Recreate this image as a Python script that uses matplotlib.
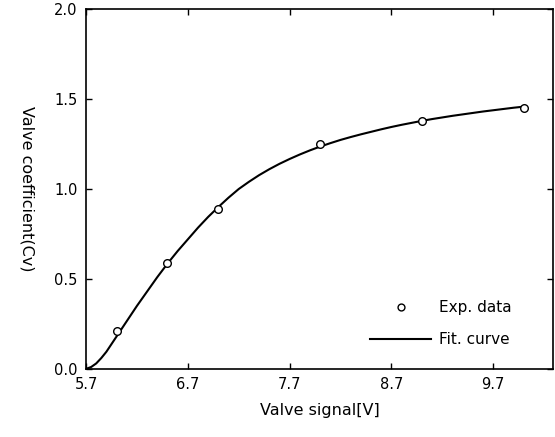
import matplotlib
matplotlib.use("Agg")
import matplotlib.pyplot as plt

plt.rcParams['font.family'] = ['DejaVu Sans']

exp_x = [6.0, 6.5, 7.0, 8.0, 9.0, 10.0]
exp_y = [0.21, 0.59, 0.89, 1.25, 1.38, 1.45]

fit_x = [5.7, 5.75, 5.8, 5.85, 5.9, 6.0, 6.1, 6.2, 6.3, 6.4, 6.5, 6.6, 6.7, 6.8, 6.9,
         7.0, 7.1, 7.2, 7.3, 7.4, 7.5, 7.6, 7.7, 7.8, 7.9, 8.0, 8.1, 8.2, 8.3, 8.4,
         8.5, 8.6, 8.7, 8.8, 8.9, 9.0, 9.1, 9.2, 9.3, 9.4, 9.5, 9.6, 9.7, 9.8, 9.9, 10.0]
fit_y = [0.0, 0.01, 0.03, 0.06, 0.095, 0.18, 0.265, 0.35, 0.43, 0.51, 0.585, 0.655, 0.72,
         0.785, 0.845, 0.90, 0.952, 1.0, 1.04, 1.077, 1.11, 1.14, 1.167, 1.192, 1.215,
         1.236, 1.255, 1.273, 1.289, 1.304, 1.318, 1.332, 1.345, 1.357, 1.368, 1.379,
         1.389, 1.398, 1.407, 1.415, 1.423, 1.431, 1.438, 1.445, 1.452, 1.458]

xticks = [5.7, 6.7, 7.7, 8.7, 9.7]
yticks = [0.0, 0.5, 1.0, 1.5, 2.0]

fig = plt.figure(figsize=(5.55, 4.37), dpi=100)
ax = fig.add_axes([0.155, 0.156, 0.842, 0.823])

ax.plot(exp_x, exp_y, linestyle='none', marker='o', markersize=5.5,
        markerfacecolor='white', markeredgecolor='black', markeredgewidth=1.0,
        label='Exp. data', zorder=3)
ax.plot(fit_x, fit_y, color='black', linewidth=1.5, label='Fit. curve', zorder=2)

ax.set_xlim(5.7, 10.29)
ax.set_ylim(0.0, 2.0)
ax.set_xticks(xticks)
ax.set_xticklabels([f"{t:.1f}" for t in xticks])
ax.set_yticks(yticks)
ax.set_yticklabels([f"{t:.1f}" for t in yticks])
ax.tick_params(direction='in', top=True, right=True, length=4, width=1,
               labelsize=10.5, pad=6)
for s in ax.spines.values():
    s.set_linewidth(1.2)

ax.set_xlabel('Valve signal[V]', fontsize=11.5, labelpad=8)
ax.set_ylabel('Valve coefficient(Cv)', fontsize=11.5, rotation=270, labelpad=25)

leg = ax.legend(loc='lower left', bbox_to_anchor=(0.608, 0.06), frameon=False,
                fontsize=11, handlelength=4.0, handletextpad=0.5, labelspacing=1.1,
                borderpad=0, borderaxespad=0, markerscale=0.9)

fig.savefig('out.png', dpi=100)
